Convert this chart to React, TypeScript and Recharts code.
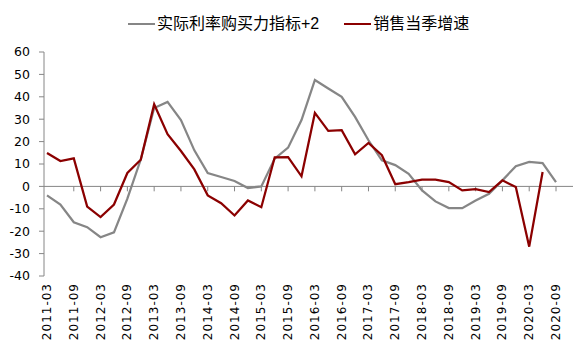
import React from 'react';
import { LineChart, Line, XAxis, YAxis, ReferenceLine } from 'recharts';

const quarters = [
  '2011-03', '2011-06', '2011-09', '2011-12',
  '2012-03', '2012-06', '2012-09', '2012-12',
  '2013-03', '2013-06', '2013-09', '2013-12',
  '2014-03', '2014-06', '2014-09', '2014-12',
  '2015-03', '2015-06', '2015-09', '2015-12',
  '2016-03', '2016-06', '2016-09', '2016-12',
  '2017-03', '2017-06', '2017-09', '2017-12',
  '2018-03', '2018-06', '2018-09', '2018-12',
  '2019-03', '2019-06', '2019-09', '2019-12',
  '2020-03', '2020-06', '2020-09',
];

const realRatePower: number[] = [
  -4.0, -8.1, -16.0, -18.2,
  -22.7, -20.5, -5.5, 12.0,
  35.0, 37.7, 29.6, 16.1,
  6.0, 4.2, 2.4, -0.7,
  0.0, 12.4, 17.3, 29.6,
  47.5, 43.7, 40.0, 31.0,
  20.6, 11.6, 9.5, 5.6,
  -1.8, -6.7, -9.7, -9.7,
  -6.3, -3.3, 2.7, 9.0,
  10.9, 10.4, 1.9,
];

const salesGrowth: (number | null)[] = [
  14.9, 11.3, 12.5, -9.0,
  -13.7, -8.1, 6.0, 11.9,
  36.7, 23.3, 15.8, 7.6,
  -4.0, -7.5, -13.0, -6.3,
  -9.3, 13.0, 13.1, 4.5,
  32.8, 24.8, 25.1, 14.3,
  19.4, 13.9, 1.0, 1.9,
  3.0, 3.0, 1.9, -1.8,
  -1.2, -2.5, 2.7, -0.3,
  -26.9, 6.4, null,
];

const yTicks = [-40, -30, -20, -10, 0, 10, 20, 30, 40, 50, 60];

const seriesNames = ['实际利率购买力指标+2', '销售当季增速'];
const seriesColors = ['#868686', '#8B0000'];

const data = quarters.map((q, i) => ({
  q,
  a: realRatePower[i],
  b: salesGrowth[i],
}));

const tickCats = quarters.filter((_, i) => i % 2 === 0 && i > 0);

const AXIS = '#868686';

function XTick(props: any) {
  const { x, y, payload } = props;
  return (
    <text
      x={x}
      y={y}
      transform={`rotate(-90, ${x}, ${y})`}
      textAnchor="end"
      dominantBaseline="central"
      fontFamily="'DejaVu Sans', sans-serif"
      fontSize={12}
      letterSpacing={1}
      fill="#000"
    >
      {payload.value}
    </text>
  );
}

function LegendBox() {
  return (
    <div
      style={{
        position: 'absolute',
        top: 13,
        left: 128,
        display: 'flex',
        alignItems: 'center',
        fontFamily: "'Liberation Sans', 'Noto Sans CJK SC', sans-serif",
        fontSize: 16,
        lineHeight: '22px',
        color: '#000',
        whiteSpace: 'nowrap',
      }}
    >
      {seriesNames.map((n, i) => (
        <div key={n} style={{ display: 'flex', alignItems: 'center', marginRight: 25 }}>
          <div style={{ width: 27, height: 2.5, background: seriesColors[i], marginRight: 2 }} />
          <span>{n}</span>
        </div>
      ))}
    </div>
  );
}

export default function App() {
  return (
    <div style={{ position: 'absolute', left: 0, top: 0, width: 587, height: 349, background: '#fff' }}>
      <LineChart
        width={587}
        height={349}
        data={data}
        margin={{ top: 52, right: 14, left: 0, bottom: 0 }}
      >
        <XAxis
          dataKey="q"
          interval={1}
          axisLine={false}
          tickLine={false}
          tickSize={5}
          height={73}
          padding={{ left: 3, right: 17 }}
          tick={<XTick />}
        />
        <YAxis
          domain={[-40, 60]}
          ticks={yTicks}
          width={44}
          tickSize={5}
          tickMargin={9}
          axisLine={{ stroke: AXIS }}
          tickLine={{ stroke: AXIS }}
          tick={{ fill: '#000', fontSize: 12.5, fontFamily: "'DejaVu Sans', sans-serif" }}
          interval={0}
        />
        <ReferenceLine y={0} stroke={AXIS} strokeWidth={1} />
        {tickCats.map((c) => (
          <ReferenceLine
            key={c}
            segment={[{ x: c, y: 0 }, { x: c, y: -2.2 }]}
            stroke={AXIS}
            strokeWidth={1}
          />
        ))}
        <Line
          type="linear"
          dataKey="a"
          name={seriesNames[0]}
          stroke={seriesColors[0]}
          strokeWidth={2.25}
          dot={false}
          isAnimationActive={false}
        />
        <Line
          type="linear"
          dataKey="b"
          name={seriesNames[1]}
          stroke={seriesColors[1]}
          strokeWidth={2.25}
          dot={false}
          isAnimationActive={false}
          connectNulls={false}
        />
      </LineChart>
      <LegendBox />
    </div>
  );
}
